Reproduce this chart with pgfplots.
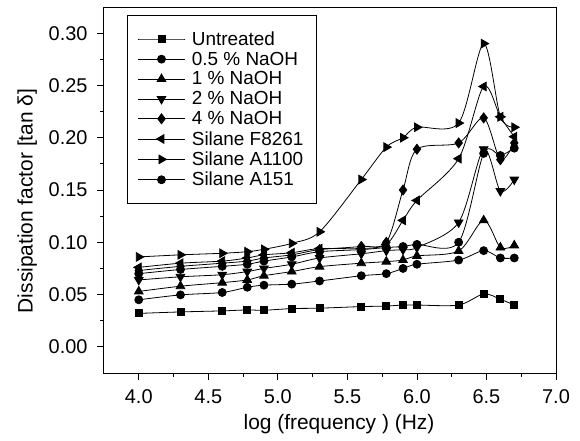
\documentclass[border=0pt]{standalone}
\usepackage{fontspec}
\setmainfont{Liberation Sans}
\usepackage{pgfplots}
\usepackage{pgfplotstable}
\pgfplotsset{compat=1.18}
\pgfplotstableread{
x      U       N05     N1      N2      N4      F      A1100   A151
4.00   0.0320  0.0450  0.0530  0.0640  0.0730  0.0760 0.0860  0.0700
4.30   0.0334  0.0497  0.0580  0.0670  0.0770  0.0800 0.0880  0.0740
4.60   0.0344  0.0520  0.0614  0.0690  0.0800  0.0820 0.0895  0.0770
4.78   0.0353  0.0570  0.0640  0.0720  0.0820  0.0850 0.0910  0.0790
4.90   0.0350  0.0590  0.0680  0.0750  0.0850  0.0880 0.0933  0.0820
5.10   0.0366  0.0600  0.0720  0.0790  0.0880  0.0900 0.0990  0.0860
5.30   0.0370  0.0630  0.0767  0.0850  0.0930  0.0940 0.1100  0.0910
5.60   0.0385  0.0680  0.0800  0.0890  0.0960  0.0940 0.1600  0.0930
5.78   0.0390  0.0700  0.0815  0.0920  0.1000  0.0980 0.1910  0.0950
5.90   0.0400  0.0750  0.0830  0.0930  0.1500  0.1210 0.2000  0.0960
6.00   0.0400  0.0790  0.0870  0.0950  0.1890  0.1400 0.2100  0.0980
6.30   0.0400  0.0830  0.0917  0.1190  0.1950  0.1800 0.2140  0.1000
6.48   0.0506  0.0920  0.1210  0.1890  0.2190  0.2490 0.2900  0.1850
6.60   0.0455  0.0850  0.0950  0.1490  0.1790  0.2200 0.2200  0.1830
6.70   0.0400  0.0850  0.0970  0.1600  0.1950  0.2010 0.2100  0.1900
}\datatable
\begin{document}
\begin{tikzpicture}
\useasboundingbox (-104bp,-68bp) rectangle (476bp,373bp);
\begin{axis}[
  at={(0,0)}, anchor=south west,
  scale only axis, width=452bp, height=366bp,
  xmin=3.75, xmax=7.0, ymin=-0.025, ymax=0.325,
  xtick={4,4.5,5,5.5,6,6.5,7},
  ytick={0,0.05,0.1,0.15,0.2,0.25,0.3},
  minor x tick num=1, minor y tick num=1,
  tick align=outside, xtick pos=left, ytick pos=left,
  major tick length=7bp, minor tick length=4bp,
  every tick/.style={black, line width=0.8bp},
  axis line style={line width=1bp},
  xticklabel style={/pgf/number format/.cd, fixed, fixed zerofill, precision=1, assume math mode=true, /tikz/.cd, yshift=-6bp},
  yticklabel style={/pgf/number format/.cd, fixed, fixed zerofill, precision=2, assume math mode=true, /tikz/.cd, xshift=-6bp},
  ticklabel style={font=\fontsize{20}{22}\selectfont},
  xlabel={log (frequency ) (Hz)},
  ylabel={Dissipation factor [tan δ]},
  label style={font=\fontsize{21}{23}\selectfont},
  xlabel style={at={(axis description cs:0.5,0)}, anchor=base, yshift=-56bp, xshift=9bp},
  ylabel style={at={(axis description cs:-0.170,0.47)}, anchor=center},
  every axis plot/.append style={black, line width=0.8bp, smooth, tension=0.5},
  legend style={at={(22.7bp,358bp)}, anchor=north west, draw=black, line width=0.8bp,
    font=\fontsize{19}{21}\selectfont, row sep=1.2bp, inner xsep=11bp, inner ysep=14bp,
    /tikz/every odd column/.append style={column sep=5bp}},
  legend cell align=left,
  legend image code/.code={\draw[mark repeat=2,mark phase=2,#1] plot coordinates {(0bp,0bp) (23bp,0bp) (46bp,0bp)};},
]
\addplot[mark=square*, mark size=3.5bp] table[x=x,y=U]{\datatable};
\addlegendentry{Untreated}
\addplot[mark=*, mark size=4bp] table[x=x,y=N05]{\datatable};
\addlegendentry{0.5 \% NaOH}
\addplot[mark=triangle*, mark size=5bp] table[x=x,y=N1]{\datatable};
\addlegendentry{1 \% NaOH}
\addplot[mark=triangle*, mark size=5bp, mark options={rotate=180}] table[x=x,y=N2]{\datatable};
\addlegendentry{2 \% NaOH}
\addplot[mark=diamond*, mark size=5bp] table[x=x,y=N4]{\datatable};
\addlegendentry{4 \% NaOH}
\addplot[mark=triangle*, mark size=5bp, mark options={rotate=90}] table[x=x,y=F]{\datatable};
\addlegendentry{Silane F8261}
\addplot[mark=triangle*, mark size=5bp, mark options={rotate=-90}] table[x=x,y=A1100]{\datatable};
\addlegendentry{Silane A1100}
\addplot[mark=*, mark size=4bp] table[x=x,y=A151]{\datatable};
\addlegendentry{Silane A151}
\end{axis}
\end{tikzpicture}
\end{document}
